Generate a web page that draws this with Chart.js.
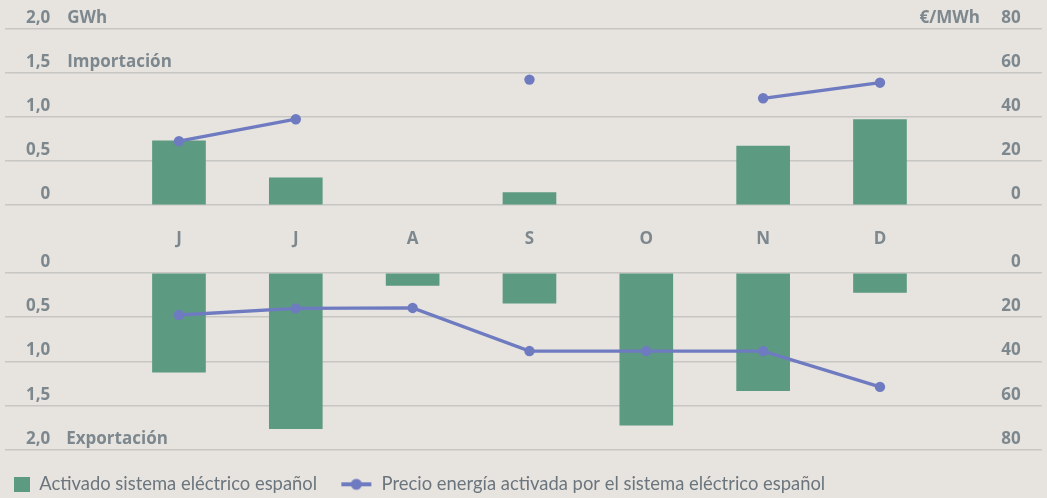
<!DOCTYPE html>
<html>
<head>
<meta charset="utf-8">
<script src="https://cdn.jsdelivr.net/npm/chart.js@4.4.1/dist/chart.umd.min.js"></script>
<style>
  html, body { margin: 0; padding: 0; background: #e7e4e0; overflow: hidden; }
  #wrap { position: relative; width: 1047px; height: 498px; overflow: hidden; }
  canvas { position: absolute; left: 0; }
  #top { top: 0; }
  #bottom { top: 250px; }
</style>
</head>
<body>
<div id="wrap">
  <canvas id="top" width="1047" height="250"></canvas>
  <canvas id="bottom" width="1047" height="254"></canvas>
</div>
<script>
// ---- data ----
const months = ['J', 'J', 'A', 'S', 'O', 'N', 'D'];
const importGWh = [0.73, 0.31, null, 0.14, null, 0.67, 0.97];
const importPrice = [29, 39, null, 57, null, 48.5, 55.6];
const exportGWh = [1.12, 1.76, 0.14, 0.34, 1.72, 1.33, 0.22];
const exportPrice = [19, 16, 15.8, 35.3, 35.3, 35.3, 51.5];
const gwhTicks = [0, 0.5, 1, 1.5, 2];
const gwhTickLabels = ['0', '0,5', '1,0', '1,5', '2,0'];
const priceTicks = [0, 20, 40, 60, 80];
const priceTickLabels = ['0', '20', '40', '60', '80'];
const barLabel = 'Activado sistema eléctrico español';
const lineLabel = 'Precio energía activada por el sistema eléctrico español';

// ---- styles ----
const BAR = '#5c9a82';
const LINE = '#6f7bc0';
const GRID = '#c8c6c3';
const LABEL = '#7d888e';
const LEGEND = '#6b757d';
const BOLD = '700 17px "Open Sans"';

const toXY = arr => arr.map((v, i) => ({ x: i, y: v }));

function axisTextPlugin(kind) {
  return {
    id: 'axisText' + kind,
    afterDraw(chart) {
      const { ctx, chartArea } = chart;
      const yL = chart.scales.y, yR = chart.scales.y2;
      ctx.save();
      ctx.font = BOLD;
      ctx.fillStyle = LABEL;
      ctx.textBaseline = 'alphabetic';
      ctx.textAlign = 'right';
      gwhTicks.forEach((v, i) => ctx.fillText(gwhTickLabels[i], chartArea.left + 45, yL.getPixelForValue(v) - 6));
      priceTicks.forEach((v, i) => ctx.fillText(priceTickLabels[i], chartArea.right - 21, yR.getPixelForValue(v) - 6));
      ctx.textAlign = 'left';
      if (kind === 'top') {
        ctx.fillText('GWh', chartArea.left + 62, yL.getPixelForValue(2) - 6);
        ctx.fillText('Importación', chartArea.left + 62, yL.getPixelForValue(1.5) - 6);
        ctx.textAlign = 'right';
        ctx.fillText('€/MWh', chartArea.right - 62, yR.getPixelForValue(80) - 6);
      } else {
        ctx.fillText('Exportación', chartArea.left + 61, yL.getPixelForValue(2) - 6);
      }
      ctx.restore();
    }
  };
}

function xScale(showLabels) {
  return {
    type: 'linear',
    min: -1.4872,
    max: 7.385,
    offset: false,
    grid: { display: false, drawTicks: false, tickLength: 0, offset: false },
    border: { display: false },
    ticks: {
      display: showLabels,
      autoSkip: false,
      maxRotation: 0,
      padding: 23.5,
      color: LABEL,
      font: { family: 'Open Sans', weight: '700', size: 17 },
      callback: (v, i) => months[i]
    },
    afterBuildTicks: s => { s.ticks = months.map((m, i) => ({ value: i })); },
    afterFit: s => { s.height = showLabels ? 45 : 14.2; }
  };
}

function yScales(reverse) {
  return {
    y: {
      min: 0, max: 2, reverse,
      grid: { color: GRID, lineWidth: 1.6, drawTicks: false, tickLength: 0 },
      border: { display: false },
      ticks: { display: false },
      afterBuildTicks: s => { s.ticks = gwhTicks.map(v => ({ value: v })); },
      afterFit: s => { s.width = 0; }
    },
    y2: {
      display: false, min: 0, max: 80, reverse, position: 'right',
      grid: { display: false }
    }
  };
}

function datasets(bars, prices) {
  return [
    {
      type: 'line', label: lineLabel, data: toXY(prices), yAxisID: 'y2', xAxisID: 'x',
      borderColor: LINE, backgroundColor: LINE, borderWidth: 3.3,
      pointRadius: 5.2, pointBackgroundColor: LINE, pointBorderWidth: 0,
      tension: 0, spanGaps: false, order: 0
    },
    {
      type: 'bar', label: barLabel, data: toXY(bars), yAxisID: 'y', xAxisID: 'x',
      backgroundColor: BAR, borderWidth: 0, barThickness: 53, order: 1
    }
  ];
}

// legend icons
const sq = document.createElement('canvas');
sq.width = 16; sq.height = 15;
(function () { const c = sq.getContext('2d'); c.fillStyle = BAR; c.fillRect(0, 0, 16, 15); })();
const ln = document.createElement('canvas');
ln.width = 48; ln.height = 14;
(function () {
  const c = ln.getContext('2d');
  c.strokeStyle = LINE; c.lineWidth = 4;
  c.beginPath(); c.moveTo(1, 7); c.lineTo(31, 7); c.stroke();
  c.fillStyle = LINE; c.beginPath(); c.arc(16, 7, 5.5, 0, Math.PI * 2); c.fill();
})();

const common = { responsive: false, animation: false, events: [] };

new Chart(document.getElementById('top'), {
  type: 'bar',
  data: { datasets: datasets(importGWh, importPrice) },
  options: Object.assign({}, common, {
    layout: { padding: { top: 29, left: 3, right: 3, bottom: 0 } },
    scales: Object.assign({ x: xScale(true) }, yScales(false)),
    plugins: { legend: { display: false }, tooltip: { enabled: false } }
  }),
  plugins: [axisTextPlugin('top')]
});

new Chart(document.getElementById('bottom'), {
  type: 'bar',
  data: { datasets: datasets(exportGWh, exportPrice) },
  options: Object.assign({}, common, {
    layout: { padding: { top: 23, left: 3, right: 3, bottom: 0.5 } },
    scales: Object.assign({ x: xScale(false) }, yScales(true)),
    plugins: {
      tooltip: { enabled: false },
      legend: {
        display: true, position: 'bottom', align: 'start',
        labels: {
          usePointStyle: true, boxWidth: 16, boxHeight: 16, padding: 11,
          color: LEGEND, font: { family: 'Lato', size: 18.4 },
          generateLabels: () => [
            { text: barLabel + '\u00a0'.repeat(6), pointStyle: sq, fillStyle: BAR, strokeStyle: BAR, lineWidth: 0, hidden: false, datasetIndex: 1, fontColor: LEGEND },
            { text: lineLabel, pointStyle: ln, fillStyle: LINE, strokeStyle: LINE, lineWidth: 0, hidden: false, datasetIndex: 0, fontColor: LEGEND }
          ]
        }
      }
    }
  }),
  plugins: [axisTextPlugin('bottom')]
});
</script>
</body>
</html>
